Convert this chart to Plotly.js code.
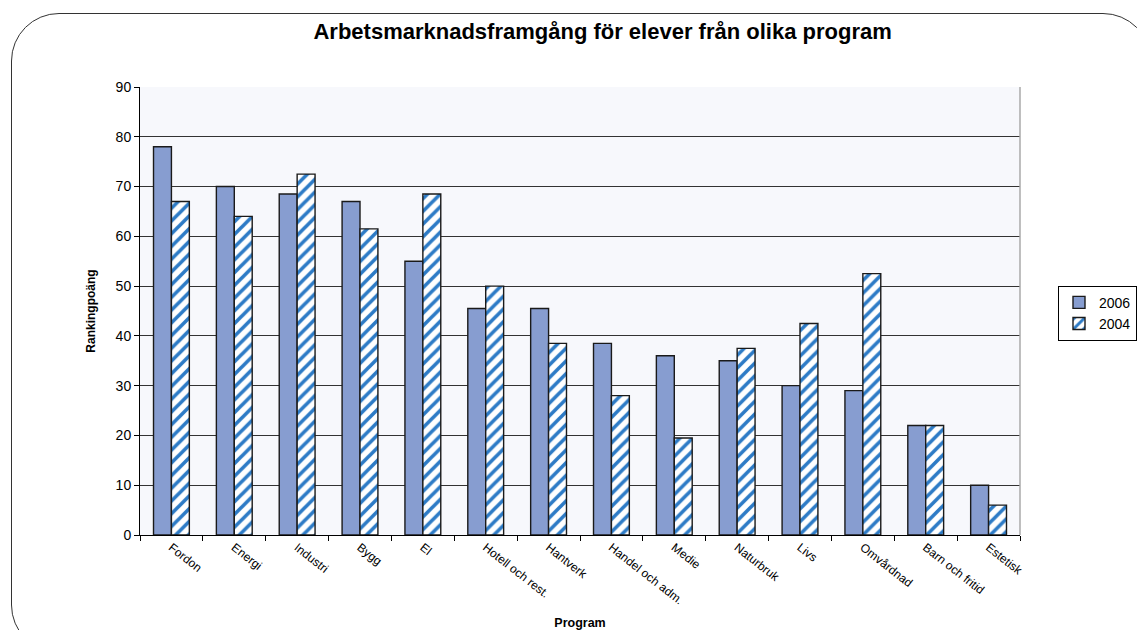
<!DOCTYPE html>
<html>
<head>
<meta charset="utf-8">
<script src="https://cdn.plot.ly/plotly-3.0.1.min.js"></script>
<style>
  html, body { margin: 0; padding: 0; width: 1137px; height: 630px; overflow: hidden; background: #fff; }
  #chart { position: absolute; left: 0; top: 0; width: 1137px; height: 630px; }
  #frame { position: absolute; left: 11px; top: 13px; width: 1140px; height: 640px;
           border: 1.3px solid #333; border-radius: 48px; pointer-events: none; box-sizing: border-box; }
</style>
</head>
<body>
<div id="chart"></div>
<div id="frame"></div>
<script>
const categories = ["Fordon", "Energi", "Industri", "Bygg", "El", "Hotell och rest.", "Hantverk",
  "Handel och adm.", "Medie", "Naturbruk", "Livs", "Omvårdnad", "Barn och fritid", "Estetisk"];
const values2006 = [78, 70, 68.5, 67, 55, 45.5, 45.5, 38.5, 36, 35, 30, 29, 22, 10];
const values2004 = [67, 64, 72.5, 61.5, 68.5, 50, 38.5, 28, 19.5, 37.5, 42.5, 52.5, 22, 6];
const seriesNames = ["2006", "2004"];
const yTicks = [0, 10, 20, 30, 40, 50, 60, 70, 80, 90];

const font = "Liberation Sans, Arial, sans-serif";

const traces = [
  {
    type: "bar", name: seriesNames[0], x: categories, y: values2006,
    marker: { color: "#879dd0", line: { color: "#1a1a1a", width: 1.4 } }
  },
  {
    type: "bar", name: seriesNames[1], x: categories, y: values2004,
    marker: {
      color: "#ffffff",
      line: { color: "#1a1a1a", width: 1.4 },
      pattern: { shape: "/", bgcolor: "#ffffff", fgcolor: "#2d7bc6", size: 9, solidity: 0.4, fillmode: "replace" }
    }
  }
];

const layout = {
  width: 1137, height: 630,
  paper_bgcolor: "rgba(0,0,0,0)",
  plot_bgcolor: "#f7f8fc",
  margin: { l: 140, r: 117, t: 87, b: 95, autoexpand: false },
  font: { family: font, color: "#000" },
  title: {
    text: "<b>Arbetsmarknadsframgång för elever från olika program</b>",
    font: { family: font, size: 22, color: "#000" },
    x: 0.53, xanchor: "center", y: 0.951, yanchor: "middle"
  },
  barmode: "group",
  bargap: 0.43,
  bargroupgap: 0,
  showlegend: true,
  legend: {
    x: (1058 - 140) / 880, xanchor: "left", y: 0.495, yanchor: "middle",
    bordercolor: "#000", borderwidth: 1, bgcolor: "#fff",
    font: { family: font, size: 14, color: "#000" },
    itemwidth: 30, tracegroupgap: 2
  },
  xaxis: {
    type: "category",
    tickangle: 38,
    tickfont: { family: font, size: 12, color: "#000" },
    ticks: "outside", ticklen: 5, tickcolor: "#000", tickson: "boundaries",
    showline: true, linecolor: "#000", linewidth: 1,
    showgrid: false,
    title: { text: "<b>Program</b>", font: { family: font, size: 12.5, color: "#000" }, standoff: 14 },
    automargin: false
  },
  yaxis: {
    range: [0, 90], tickvals: yTicks, ticktext: yTicks.map(String),
    tickfont: { family: font, size: 14, color: "#000" },
    ticks: "outside", ticklen: 5, tickcolor: "#000",
    showline: true, linecolor: "#000", linewidth: 1,
    showgrid: true, gridcolor: "#333", gridwidth: 1,
    zeroline: false,
    title: { text: "<b>Rankingpoäng</b>", font: { family: font, size: 12, color: "#000" }, standoff: 17 },
    automargin: false
  },
  shapes: [
    { type: "line", xref: "paper", yref: "paper", x0: 1, x1: 1, y0: 0, y1: 1, line: { color: "#aaa", width: 1.5 } }
  ]
};

Plotly.newPlot("chart", traces, layout, { staticPlot: true, displayModeBar: false });
</script>
</body>
</html>
